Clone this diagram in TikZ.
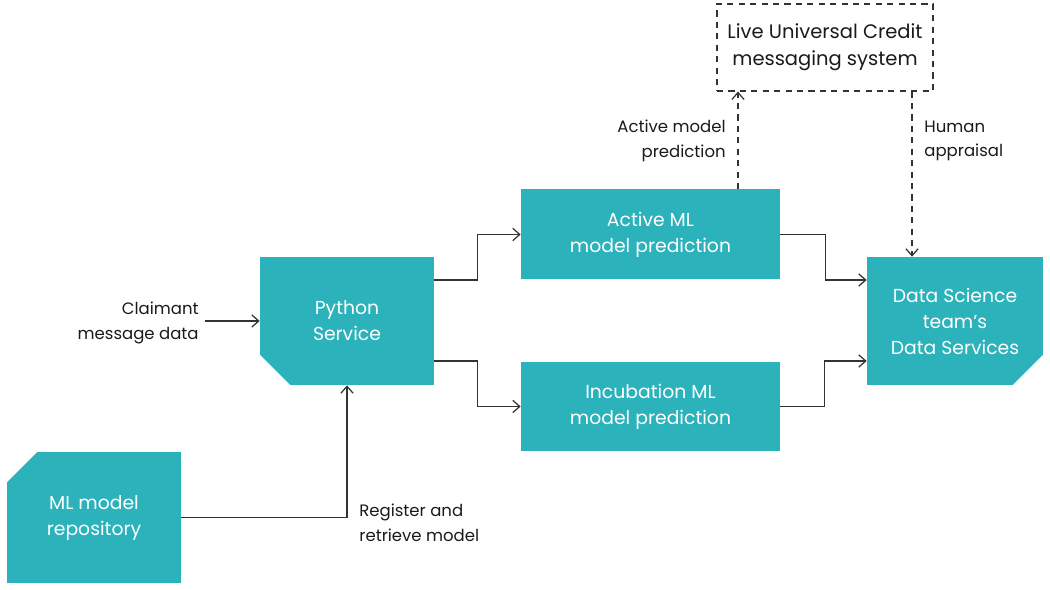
\documentclass[tikz,border=0pt]{standalone}
\usepackage{fontspec}
\setmainfont{Poppins}
\usepackage{xcolor}
\definecolor{mlTeal}{HTML}{2BB2BB}
\definecolor{mlLine}{HTML}{333333}
\definecolor{mlText}{HTML}{1A1A1A}
\usetikzlibrary{arrows.meta,positioning}
\tikzset{
    service/.style={
        fill=mlTeal,
        rectangle,
        align=center,
        text=white,
        inner sep=0pt,
        font=\fontsize{10.7}{14.8}\selectfont
    },
    cutbox/.style n args={3}{
        service,
        path picture={
            \fill[white] (path picture bounding box.#1) -- ++(#2,0) -- ++(-#2,#3) -- cycle;
        }
    },
    system/.style={
        draw=mlLine,
        dash pattern=on 3.5pt off 3pt,
        line width=0.7pt,
        rectangle,
        align=center,
        text=mlText,
        minimum width=4.32cm,
        minimum height=1.74cm,
        font=\fontsize{11.1}{15.2}\selectfont
    },
    arrow/.style={
        -{Straight Barb[length=4pt,width=7pt]},
        line width=0.7pt,
        color=mlLine
    },
    dasharrow/.style={
        arrow,
        dash pattern=on 3.5pt off 3pt
    },
    note/.style={
        align=#1,
        text=mlText,
        inner sep=0pt,
        font=\fontsize{9.4}{14}\selectfont
    }
}
\begin{document}
\begin{tikzpicture}[x=0.02cm,y=0.02cm]
    \useasboundingbox (0,0) rectangle (1050,590);

    % Services
    \node[cutbox={south west}{0.6cm}{0.6cm}, minimum width=3.48cm, minimum height=2.56cm] (python) at (347,269) {Python\\Service};
    \node[service, minimum width=5.18cm, minimum height=1.8cm] (active) at (650.5,355.5) {Active ML\\model prediction};
    \node[service, minimum width=5.18cm, minimum height=1.8cm] (incub) at (650.5,183.5) {Incubation ML\\model prediction};
    \node[cutbox={south east}{-0.6cm}{0.6cm}, minimum width=3.52cm, minimum height=2.56cm] (dss) at (955,269) {Data Science\\team's\\Data Services};
    \node[cutbox={north west}{0.6cm}{-0.6cm}, minimum width=3.48cm, minimum height=2.62cm] (repo) at (94,72.5) {ML model\\repository};

    % Live system
    \node[system] (live) at (825,542.5) {Live Universal Credit\\messaging system};

    % Input
    \coordinate (claim) at (205,269);
    \node[note=right, anchor=east] (claimtxt) at (199,267) {Claimant\\message data};
    \draw[arrow] (claim) -- (python);

    % Arrows
    \draw[arrow] ([yshift=0.82cm]python.east) -- ++(43,0) |- (active.west);
    \draw[arrow] ([yshift=-0.8cm]python.east) -- ++(43,0) |- (incub.west);
    \draw[arrow] (active.east) -- ++(45,0) |- ([yshift=0.82cm]dss.west);
    \draw[arrow] (incub.east) -- ++(44,0) |- ([yshift=-0.8cm]dss.west);
    \draw[arrow] (repo.east) -| (python.south);
    \draw[dasharrow] ([xshift=1.75cm]active.north) -- ([xshift=1.75cm]active.north |- live.south);
    \draw[dasharrow] ([xshift=-0.86cm]dss.north |- live.south) -- ([xshift=-0.86cm]dss.north);

    % Labels
    \node[note=right, anchor=east] (activetxt) at (726,449) {Active model\\prediction};
    \node[note=left, anchor=west] (humantxt) at (924,449) {Human\\appraisal};
    \node[note=left, anchor=west] (regtxt) at (359,67) {Register and\\retrieve model};
\end{tikzpicture}
\end{document}
